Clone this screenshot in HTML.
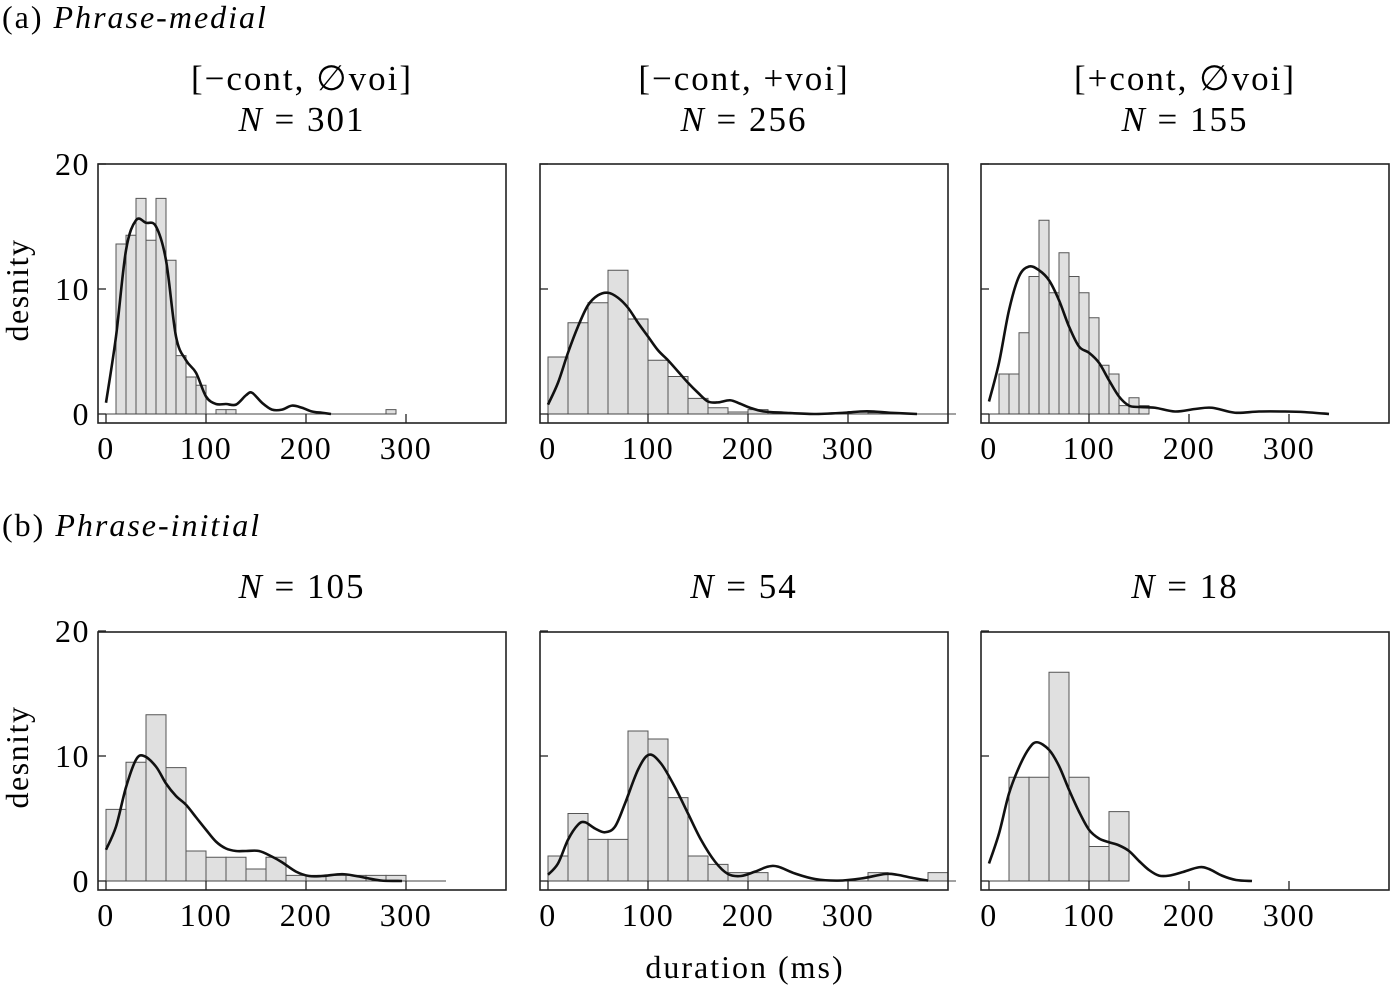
<!DOCTYPE html>
<html><head><meta charset="utf-8">
<style>
html,body{margin:0;padding:0;background:#fff;}
svg{display:block;font-family:"Liberation Serif",serif;}
</style></head>
<body>
<svg id="fig" width="1391" height="991" viewBox="0 0 1391 991" xmlns="http://www.w3.org/2000/svg">
<text x="2" y="28" font-size="32" letter-spacing="2">(a)  <tspan font-style="italic">Phrase-medial</tspan></text>
<text x="2" y="536" font-size="32" letter-spacing="2">(b)  <tspan font-style="italic">Phrase-initial</tspan></text>
<text x="745" y="978" font-size="32" letter-spacing="2" text-anchor="middle">duration (ms)</text>
<text transform="translate(28,290) rotate(-90)" font-size="32" letter-spacing="1.5" text-anchor="middle">desnity</text>
<text transform="translate(28,757) rotate(-90)" font-size="32" letter-spacing="1.5" text-anchor="middle">desnity</text>
<g id="plots"></g>
</svg>
<script>
// Bin widths (ms) and bin start values
const binStart = [10, 0, 10, 0, 0, 20];
const binWidth = [10, 20, 10, 20, 20, 20];
// Histogram densities per panel
const hist1 = [13.6,14.3,17.25,13.9,17.25,12.3,4.67,2.96,2.3,0,0.35,0.35,0,0,0,0,0,0,0,0,0,0,0,0,0,0,0,0.35];
const hist2 = [4.56,7.3,8.9,11.5,7.6,4.3,3.0,1.25,0.5,0.16,0.35,0,0,0,0,0.2,0.1];
const hist3 = [3.2,3.2,6.5,11,15.5,9.7,12.9,11,9.7,7.7,3.9,3.2,0.67,1.3,0.67];
const hist4 = [5.73,9.5,13.3,9.07,2.4,1.9,1.9,0.96,1.9,0.45,0.45,0.45,0.45,0.45,0.45];
const hist5 = [2.0,5.4,3.33,3.33,12.0,11.36,6.67,2.0,1.33,0.67,0.67,0,0,0,0,0,0.67,0,0,0.67];
const hist6 = [8.3,8.3,16.7,8.3,2.76,5.55];
// Density curves: x (ms) and y (density)
const kx1 = [0,10,20,30,40,50,60,70,80,90,100,110,120,130,140,146,156,166,176,186,196,206,216,225];
const ky1 = [0.9,6.2,13.1,15.5,15.3,15.0,12.3,6.2,4.3,3.3,1.4,0.8,0.8,0.75,1.5,1.7,0.9,0.35,0.35,0.67,0.5,0.2,0.1,0];
const kx2 = [0,10,20,30,40,50,60,70,80,90,100,110,120,130,140,150,160,170,182,192,202,216,236,266,296,312,326,342,369];
const ky2 = [0.75,2.5,4.9,7.0,8.7,9.5,9.7,9.3,8.5,7.3,6.2,5.1,4.3,3.4,2.5,1.7,1.0,0.93,1.1,0.83,0.5,0.2,0.1,0,0.1,0.2,0.2,0.1,0];
const kx3 = [0,10,20,30,40,50,60,70,80,90,100,110,120,130,140,150,166,186,206,223,246,270,296,316,340];
const ky3 = [1.0,4.1,8.3,11,11.8,11.5,10.7,9.1,7.0,5.4,4.9,4.1,2.7,1.4,0.67,0.56,0.5,0.2,0.4,0.5,0.1,0.2,0.2,0.15,0];
const kx4 = [0,10,20,30,38,50,60,70,80,90,100,110,120,130,140,153,166,176,190,203,216,236,250,263,276,296];
const ky4 = [2.5,4.35,7.5,9.7,10,9.15,7.8,6.8,6.1,5.1,4.1,3.15,2.6,2.4,2.4,2.4,1.95,1.5,0.75,0.4,0.4,0.55,0.4,0.2,0.03,0];
const kx5 = [0,10,20,30,37,47,57,67,77,90,101,113,127,140,153,167,180,193,207,220,230,247,267,290,313,337,349,365,380];
const ky5 = [0.5,1.4,3.3,4.5,4.7,4.2,3.9,4.35,6.2,8.9,10.1,9.4,7.5,5.4,3.3,1.55,0.56,0.4,0.75,1.15,1.15,0.6,0.16,0.03,0.2,0.56,0.5,0.24,0.03];
const kx6 = [0,10,20,30,40,48,60,70,80,90,100,110,120,130,140,150,160,170,180,193,210,220,233,247,263];
const ky6 = [1.4,3.8,7.0,9.1,10.6,11.1,10.5,9.2,7.3,5.55,4.1,3.4,3.1,2.85,2.4,1.6,0.88,0.43,0.43,0.7,1.1,0.96,0.43,0.08,0];
const titles1 = ["[\u2212cont, \u2205voi]","[\u2212cont, +voi]","[+cont, \u2205voi]"];
const nLabels = ["301","256","155","105","54","18"];
const xTicks = [0,100,200,300];
const yTicks = [0,10,20];

const hists=[hist1,hist2,hist3,hist4,hist5,hist6];
const kxs=[kx1,kx2,kx3,kx4,kx5,kx6], kys=[ky1,ky2,ky3,ky4,ky5,ky6];
const baseEnd=[290,408,160,340,408,140];
const NS="http://www.w3.org/2000/svg";
const root=document.getElementById('plots');
function mk(tag,attrs,parent){const e=document.createElementNS(NS,tag);for(const k in attrs)e.setAttribute(k,attrs[k]);(parent||root).appendChild(e);return e;}
const boxL=[98,540,981], boxW=408;
const rowTop=[164,632], rowBase=[414,881], rowBot=[423,890];
for(let p=0;p<6;p++){
  const col=p%3,row=Math.floor(p/3);
  const L=boxL[col], x0=L+8, base=rowBase[row];
  const xs=v=>x0+v*1.0;
  const ys=v=>base-v*12.5;
  const g=mk('g',{});
  
  
  const cx=L+boxW/2;
  if(row===0){
    const t=mk('text',{x:cx,y:90,'font-size':35,'letter-spacing':2,'text-anchor':'middle'},g);
    t.textContent=titles1[col];
    
    
  }
  const nt=mk('text',{x:cx,y:row===0?131:598,'font-size':35,'letter-spacing':2,'text-anchor':'middle'},g);
  nt.innerHTML='<tspan font-style="italic">N</tspan> = '+nLabels[p];
  
  
  const h=hists[p];
  for(let i=0;i<h.length;i++){
    const a=binStart[p]+i*binWidth[p];
    const r=mk('rect',{x:xs(a),y:ys(h[i]),width:binWidth[p],height:Math.max(0,base-ys(h[i])),fill:'#e0e0e0',stroke:'#555','stroke-width':1},g);
    
    
  }
  mk('line',{x1:L,x2:xs(baseEnd[p]),y1:base,y2:base,stroke:'#444','stroke-width':1},g);
  const kx=kxs[p],ky=kys[p];
  const pts=kx.map((v,i)=>[xs(v),ys(ky[i])]);
  let d='M'+pts[0][0]+','+pts[0][1];
  for(let i=0;i<pts.length-1;i++){
    const p0=pts[i-1]||pts[i],p1=pts[i],p2=pts[i+1],p3=pts[i+2]||p2;
    d+=' C'+(p1[0]+(p2[0]-p0[0])/6)+','+(p1[1]+(p2[1]-p0[1])/6)+' '+(p2[0]-(p3[0]-p1[0])/6)+','+(p2[1]-(p3[1]-p1[1])/6)+' '+p2[0]+','+p2[1];
  }
  const c=mk('path',{d:d,fill:'none',stroke:'#111','stroke-width':2.6},g);
  
  
  mk('rect',{x:L,y:rowTop[row],width:boxW,height:rowBot[row]-rowTop[row],fill:'none',stroke:'#222','stroke-width':1.6},g);
  xTicks.forEach(v=>{
    mk('line',{x1:xs(v),x2:xs(v),y1:base,y2:rowBot[row],stroke:'#222','stroke-width':1.3},g);
    const t=mk('text',{x:xs(v),y:rowBot[row]+36,'font-size':32,'letter-spacing':1.5,'text-anchor':'middle'},g);
    t.textContent=v;
    
    
  });
  yTicks.forEach(v=>{
    mk('line',{x1:L,x2:L+8,y1:ys(v),y2:ys(v),stroke:'#222','stroke-width':1.3},g);
    if(col===0){
      const t=mk('text',{x:L-8,y:ys(v)+11,'font-size':32,'letter-spacing':1.5,'text-anchor':'end'},g);
      t.textContent=v;
      
      
    }
  });
}
</script>
</body></html>
